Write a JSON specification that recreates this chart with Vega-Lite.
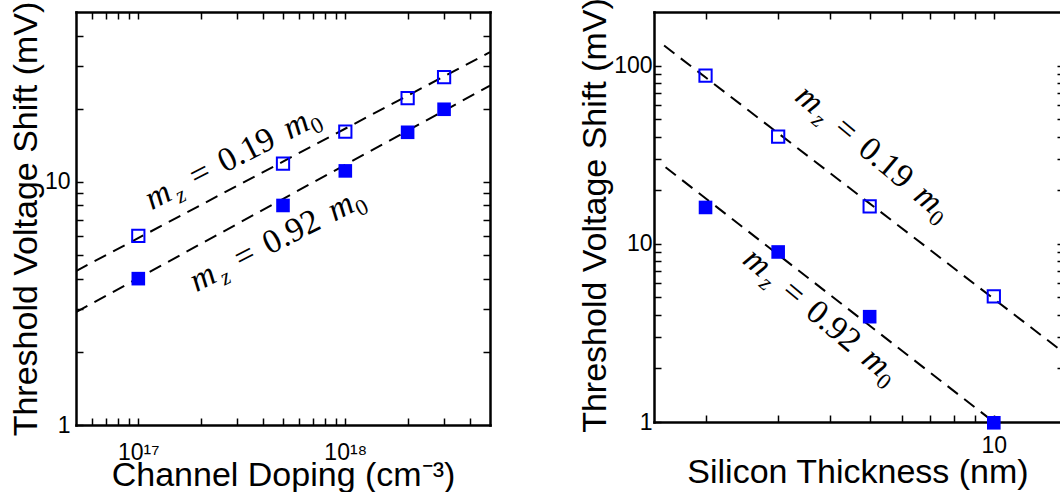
{
  "$schema": "https://vega.github.io/schema/vega-lite/v6.json",
  "background": "white",
  "padding": {"left": 9, "top": -3, "right": 0, "bottom": 0},
  "spacing": 86,
  "datasets": {
    "leftPts": [
      {"x": 1e17, "y": 6.0, "m": "0.19"},
      {"x": 5e17, "y": 11.9, "m": "0.19"},
      {"x": 1e18, "y": 16.1, "m": "0.19"},
      {"x": 2e18, "y": 22.1, "m": "0.19"},
      {"x": 3e18, "y": 27.0, "m": "0.19"},
      {"x": 1e17, "y": 4.0, "m": "0.92"},
      {"x": 5e17, "y": 8.0, "m": "0.92"},
      {"x": 1e18, "y": 11.1, "m": "0.92"},
      {"x": 2e18, "y": 16.0, "m": "0.92"},
      {"x": 3e18, "y": 19.9, "m": "0.92"}
    ],
    "leftFit": [
      {"x": 5e16, "y": 4.3, "m": "0.19"},
      {"x": 5e18, "y": 34.2, "m": "0.19"},
      {"x": 5e16, "y": 2.91, "m": "0.92"},
      {"x": 5e18, "y": 24.9, "m": "0.92"}
    ],
    "leftLab": [
      {"x": 1.16e17, "y": 7.65, "label": "0.19"},
      {"x": 1.91e17, "y": 3.52, "label": "0.92"}
    ],
    "rightPts": [
      {"x": 2, "y": 88, "m": "0.19"},
      {"x": 3, "y": 40, "m": "0.19"},
      {"x": 5, "y": 16.2, "m": "0.19"},
      {"x": 10, "y": 5.07, "m": "0.19"},
      {"x": 2, "y": 16, "m": "0.92"},
      {"x": 3, "y": 9, "m": "0.92"},
      {"x": 5, "y": 3.9, "m": "0.92"},
      {"x": 10, "y": 0.99, "m": "0.92"}
    ],
    "rightFit": [
      {"x": 1.587, "y": 129.6, "m": "0.19"},
      {"x": 14.55, "y": 2.52, "m": "0.19"},
      {"x": 1.6, "y": 26.9, "m": "0.92"},
      {"x": 10, "y": 1.0, "m": "0.92"}
    ],
    "rightLab": [
      {"x": 3.27, "y": 64.8, "label": "0.19"},
      {"x": 2.44, "y": 7.87, "label": "0.92"}
    ]
  },
  "hconcat": [
    {
      "width": 414,
      "height": 413,
      "layer": [
        {
          "data": {"name": "leftFit"},
          "mark": {"type": "line", "color": "black", "strokeWidth": 2, "strokeDash": [13, 8], "clip": true},
          "encoding": {
            "x": {"field": "x", "type": "quantitative", "scale": {"type": "log", "domain": [5e16, 5e18], "nice": false},
              "axis": {"orient": "bottom", "values": [6e16, 7e16, 8e16, 9e16, 1e17, 2e17, 3e17, 4e17, 5e17, 6e17, 7e17, 8e17, 9e17, 1e18, 2e18, 3e18, 4e18],
                "labelExpr": "datum.value == 1e17 ? '10¹⁷' : (datum.value == 1e18 ? '10¹⁸' : '')",
                "title": "Channel Doping (cm⁻³)", "labelPadding": 23, "titleY": 60, "titleBaseline": "alphabetic"}},
            "y": {"field": "y", "type": "quantitative", "scale": {"type": "log", "domain": [1, 50], "nice": false},
              "axis": {"orient": "left", "values": [1, 2, 3, 4, 5, 6, 7, 8, 9, 10, 20, 30, 40],
                "labelExpr": "datum.value == 10 ? '10' : (datum.value == 1 ? '1' : '')",
                "title": "Threshold Voltage Shift (mV)", "labelPadding": 13, "titleX": -39.5, "titleBaseline": "alphabetic"}},
            "detail": {"field": "m"}
          }
        },
        {
          "data": {"name": "leftPts"},
          "transform": [{"filter": "datum.m == '0.19'"}],
          "mark": {"type": "point", "shape": "square", "filled": false, "stroke": "#0000ff", "strokeWidth": 2, "size": 150, "opacity": 1},
          "encoding": {
            "x": {"field": "x", "type": "quantitative", "scale": {"type": "log"},
              "axis": {"orient": "top", "values": [6e16, 7e16, 8e16, 9e16, 1e17, 2e17, 3e17, 4e17, 5e17, 6e17, 7e17, 8e17, 9e17, 1e18, 2e18, 3e18, 4e18], "labels": false, "title": null}},
            "y": {"field": "y", "type": "quantitative", "scale": {"type": "log"},
              "axis": {"orient": "right", "values": [2, 3, 4, 5, 6, 7, 8, 9, 10, 20, 30, 40], "labels": false, "title": null}}
          }
        },
        {
          "data": {"name": "leftPts"},
          "transform": [{"filter": "datum.m == '0.92'"}],
          "mark": {"type": "point", "shape": "square", "filled": true, "color": "#0000ff", "size": 185, "opacity": 1},
          "encoding": {
            "x": {"field": "x", "type": "quantitative", "scale": {"type": "log"}, "axis": null},
            "y": {"field": "y", "type": "quantitative", "scale": {"type": "log"}, "axis": null}
          }
        },
        {
          "data": {"name": "leftLab"},
          "mark": {"type": "text", "text": "m", "font": "Liberation Serif", "fontStyle": "italic", "fontSize": 34, "angle": 333, "align": "left", "baseline": "alphabetic", "color": "black"},
          "encoding": {
            "x": {"field": "x", "type": "quantitative", "scale": {"type": "log"}, "axis": null},
            "y": {"field": "y", "type": "quantitative", "scale": {"type": "log"}, "axis": null}
          }
        },
        {
          "data": {"name": "leftLab"},
          "mark": {"type": "text", "text": "z", "font": "Liberation Serif", "fontStyle": "italic", "fontSize": 23, "angle": 333, "align": "left", "baseline": "alphabetic", "dx": 28, "dy": 7, "color": "black"},
          "encoding": {
            "x": {"field": "x", "type": "quantitative", "scale": {"type": "log"}, "axis": null},
            "y": {"field": "y", "type": "quantitative", "scale": {"type": "log"}, "axis": null}
          }
        },
        {
          "data": {"name": "leftLab"},
          "mark": {"type": "text", "text": "=", "font": "Liberation Serif", "fontSize": 34, "angle": 333, "align": "left", "baseline": "alphabetic", "dx": 50, "color": "black"},
          "encoding": {
            "x": {"field": "x", "type": "quantitative", "scale": {"type": "log"}, "axis": null},
            "y": {"field": "y", "type": "quantitative", "scale": {"type": "log"}, "axis": null}
          }
        },
        {
          "data": {"name": "leftLab"},
          "mark": {"type": "text", "font": "Liberation Serif", "fontSize": 34, "angle": 333, "align": "left", "baseline": "alphabetic", "dx": 82, "color": "black"},
          "encoding": {
            "x": {"field": "x", "type": "quantitative", "scale": {"type": "log"}, "axis": null},
            "y": {"field": "y", "type": "quantitative", "scale": {"type": "log"}, "axis": null},
            "text": {"field": "label"}
          }
        },
        {
          "data": {"name": "leftLab"},
          "mark": {"type": "text", "text": "m", "font": "Liberation Serif", "fontStyle": "italic", "fontSize": 34, "angle": 333, "align": "left", "baseline": "alphabetic", "dx": 155, "color": "black"},
          "encoding": {
            "x": {"field": "x", "type": "quantitative", "scale": {"type": "log"}, "axis": null},
            "y": {"field": "y", "type": "quantitative", "scale": {"type": "log"}, "axis": null}
          }
        },
        {
          "data": {"name": "leftLab"},
          "mark": {"type": "text", "text": "0", "font": "Liberation Serif", "fontSize": 23, "angle": 333, "align": "left", "baseline": "alphabetic", "dx": 180, "dy": 7, "color": "black"},
          "encoding": {
            "x": {"field": "x", "type": "quantitative", "scale": {"type": "log"}, "axis": null},
            "y": {"field": "y", "type": "quantitative", "scale": {"type": "log"}, "axis": null}
          }
        }
      ],
      "resolve": {"axis": {"x": "independent", "y": "independent"}}
    },
    {
      "width": 407,
      "height": 410,
      "layer": [
        {
          "data": {"name": "rightFit"},
          "mark": {"type": "line", "color": "black", "strokeWidth": 2, "strokeDash": [13, 8], "clip": true},
          "encoding": {
            "x": {"field": "x", "type": "quantitative", "scale": {"type": "log", "domain": [1.5, 14.55], "nice": false},
              "axis": {"orient": "bottom", "values": [2, 3, 4, 5, 6, 7, 8, 9, 10],
                "labelExpr": "datum.value == 10 ? '10' : ''",
                "title": "Silicon Thickness (nm)", "labelPadding": 19, "titleY": 60, "titleBaseline": "alphabetic"}},
            "y": {"field": "y", "type": "quantitative", "scale": {"type": "log", "domain": [1, 200], "nice": false},
              "axis": {"orient": "left", "values": [1, 2, 3, 4, 5, 6, 7, 8, 9, 10, 20, 30, 40, 50, 60, 70, 80, 90, 100],
                "labelExpr": "datum.value == 100 ? '100' : (datum.value == 10 ? '10' : (datum.value == 1 ? '1' : ''))",
                "title": "Threshold Voltage Shift (mV)", "labelPadding": 9, "titleX": -49, "titleY": 203, "titleBaseline": "alphabetic"}},
            "detail": {"field": "m"}
          }
        },
        {
          "data": {"name": "rightPts"},
          "transform": [{"filter": "datum.m == '0.19'"}],
          "mark": {"type": "point", "shape": "square", "filled": false, "stroke": "#0000ff", "strokeWidth": 2, "size": 150, "opacity": 1},
          "encoding": {
            "x": {"field": "x", "type": "quantitative", "scale": {"type": "log"},
              "axis": {"orient": "top", "values": [2, 3, 4, 5, 6, 7, 8, 9, 10], "labels": false, "title": null}},
            "y": {"field": "y", "type": "quantitative", "scale": {"type": "log"},
              "axis": {"orient": "right", "values": [2, 3, 4, 5, 6, 7, 8, 9, 10, 20, 30, 40, 50, 60, 70, 80, 90, 100], "labels": false, "title": null, "domain": false, "tickSize": -4, "tickOffset": 0}}
          }
        },
        {
          "data": {"name": "rightPts"},
          "transform": [{"filter": "datum.m == '0.92'"}],
          "mark": {"type": "point", "shape": "square", "filled": true, "color": "#0000ff", "size": 185, "opacity": 1},
          "encoding": {
            "x": {"field": "x", "type": "quantitative", "scale": {"type": "log"}, "axis": null},
            "y": {"field": "y", "type": "quantitative", "scale": {"type": "log"}, "axis": null}
          }
        },
        {
          "data": {"name": "rightLab"},
          "mark": {"type": "text", "text": "m", "font": "Liberation Serif", "fontStyle": "italic", "fontSize": 34, "angle": 40, "align": "left", "baseline": "alphabetic", "color": "black"},
          "encoding": {
            "x": {"field": "x", "type": "quantitative", "scale": {"type": "log"}, "axis": null},
            "y": {"field": "y", "type": "quantitative", "scale": {"type": "log"}, "axis": null}
          }
        },
        {
          "data": {"name": "rightLab"},
          "mark": {"type": "text", "text": "z", "font": "Liberation Serif", "fontStyle": "italic", "fontSize": 23, "angle": 40, "align": "left", "baseline": "alphabetic", "dx": 28, "dy": 7, "color": "black"},
          "encoding": {
            "x": {"field": "x", "type": "quantitative", "scale": {"type": "log"}, "axis": null},
            "y": {"field": "y", "type": "quantitative", "scale": {"type": "log"}, "axis": null}
          }
        },
        {
          "data": {"name": "rightLab"},
          "mark": {"type": "text", "text": "=", "font": "Liberation Serif", "fontSize": 34, "angle": 40, "align": "left", "baseline": "alphabetic", "dx": 50, "color": "black"},
          "encoding": {
            "x": {"field": "x", "type": "quantitative", "scale": {"type": "log"}, "axis": null},
            "y": {"field": "y", "type": "quantitative", "scale": {"type": "log"}, "axis": null}
          }
        },
        {
          "data": {"name": "rightLab"},
          "mark": {"type": "text", "font": "Liberation Serif", "fontSize": 34, "angle": 40, "align": "left", "baseline": "alphabetic", "dx": 82, "color": "black"},
          "encoding": {
            "x": {"field": "x", "type": "quantitative", "scale": {"type": "log"}, "axis": null},
            "y": {"field": "y", "type": "quantitative", "scale": {"type": "log"}, "axis": null},
            "text": {"field": "label"}
          }
        },
        {
          "data": {"name": "rightLab"},
          "mark": {"type": "text", "text": "m", "font": "Liberation Serif", "fontStyle": "italic", "fontSize": 34, "angle": 40, "align": "left", "baseline": "alphabetic", "dx": 155, "color": "black"},
          "encoding": {
            "x": {"field": "x", "type": "quantitative", "scale": {"type": "log"}, "axis": null},
            "y": {"field": "y", "type": "quantitative", "scale": {"type": "log"}, "axis": null}
          }
        },
        {
          "data": {"name": "rightLab"},
          "mark": {"type": "text", "text": "0", "font": "Liberation Serif", "fontSize": 23, "angle": 40, "align": "left", "baseline": "alphabetic", "dx": 180, "dy": 7, "color": "black"},
          "encoding": {
            "x": {"field": "x", "type": "quantitative", "scale": {"type": "log"}, "axis": null},
            "y": {"field": "y", "type": "quantitative", "scale": {"type": "log"}, "axis": null}
          }
        }
      ],
      "resolve": {"axis": {"x": "independent", "y": "independent"}}
    }
  ],
  "config": {
    "view": {"stroke": null},
    "axis": {
      "grid": false,
      "domainColor": "black",
      "domainWidth": 2.5,
      "domainCap": "square",
      "tickColor": "black",
      "tickWidth": 1.5,
      "tickSize": -7,
      "labelFont": "Liberation Sans",
      "labelFontSize": 23,
      "labelColor": "black",
      "labelOverlap": false,
      "labelFlush": false,
      "labelBound": false,
      "titleFont": "Liberation Sans",
      "titleFontSize": 34,
      "titleFontWeight": "normal",
      "titleColor": "black"
    }
  }
}
